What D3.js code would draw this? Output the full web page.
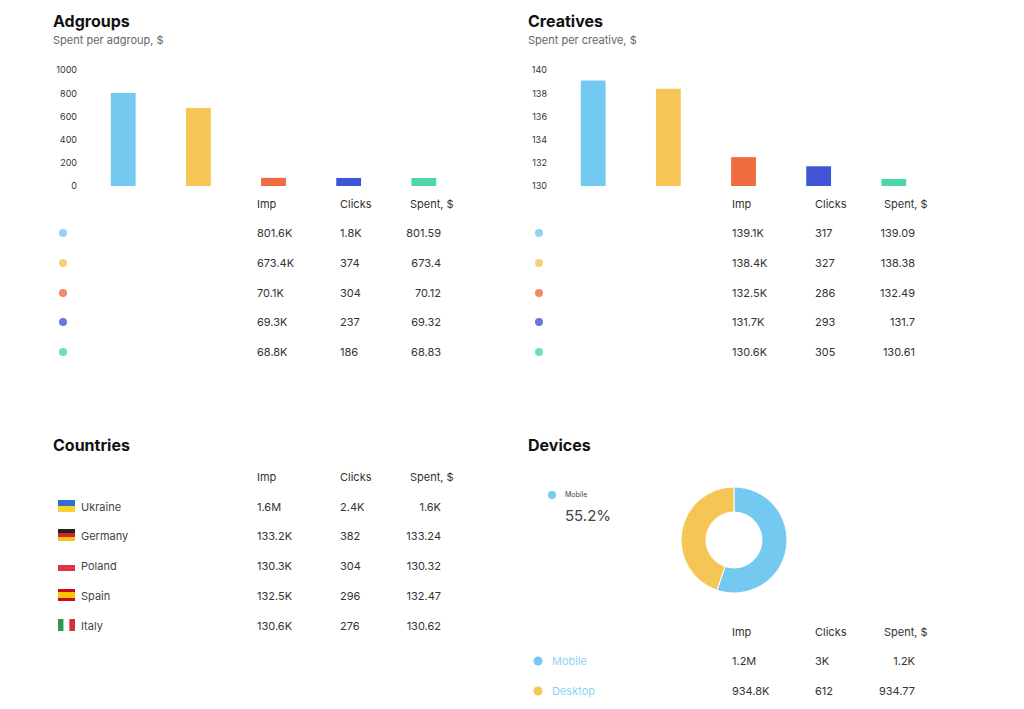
<!DOCTYPE html>
<html><head><meta charset="utf-8">
<script src="https://cdn.jsdelivr.net/npm/d3@7"></script>
<style>body{margin:0;background:#fff;font-family:Inter,Roboto,sans-serif}</style>
</head><body>
<svg id="c" width="1024" height="709"></svg>
<script>
const colors = ["#74c9f0","#f5c555","#ee6c3f","#3f57d4","#4fd6a8"];
const adgroupSpent = [801.59, 673.4, 70.12, 69.32, 68.83];
const adgroupImp = ["801.6K","673.4K","70.1K","69.3K","68.8K"];
const adgroupClicks = ["1.8K","374","304","237","186"];
const adgroupSpentLbl = ["801.59","673.4","70.12","69.32","68.83"];
const adTicks = [0,200,400,600,800,1000];
const creativeSpent = [139.09, 138.38, 132.49, 131.7, 130.61];
const creativeImp = ["139.1K","138.4K","132.5K","131.7K","130.6K"];
const creativeClicks = ["317","327","286","293","305"];
const creativeSpentLbl = ["139.09","138.38","132.49","131.7","130.61"];
const crTicks = [130,132,134,136,138,140];
const countries = ["Ukraine","Germany","Poland","Spain","Italy"];
const countryImp = ["1.6M","133.2K","130.3K","132.5K","130.6K"];
const countryClicks = ["2.4K","382","304","296","276"];
const countrySpent = ["1.6K","133.24","130.32","132.47","130.62"];
const devices = ["Mobile","Desktop"];
const deviceShare = [55.2, 44.8];
const deviceImp = ["1.2M","934.8K"];
const deviceClicks = ["3K","612"];
const deviceSpent = ["1.2K","934.77"];
const headers = ["Imp","Clicks","Spent, $"];

const svg = d3.select("#c");
function title(x,y,t,s){
  svg.append("text").attr("x",x).attr("y",y).text(t).attr("font-size",16).attr("font-weight",700).attr("fill","#111");
  if(s) svg.append("text").attr("x",x).attr("y",y+17).text(s).attr("font-size",11).attr("fill","#666");
}
function bars(x0, vals, dom, ticks){
  const y = d3.scaleLinear().domain(dom).range([186,70]);
  const x = d3.scaleBand().domain(d3.range(5)).range([x0+9, x0+384]).paddingInner(0.67).paddingOuter(0.33);
  const g = svg.append("g").attr("transform",`translate(${x0},0)`);
  const ax = g.call(d3.axisLeft(y).tickValues(ticks).tickFormat(d3.format("d")).tickSize(0).tickPadding(0));
  ax.select(".domain").remove();
  ax.selectAll("text").attr("font-size",9).attr("fill","#333").attr("font-family","Inter,Roboto,sans-serif");
  svg.append("g").selectAll("rect").data(vals).join("rect")
    .attr("x",(d,i)=>x(i)).attr("width",x.bandwidth())
    .attr("y",d=>Math.min(y(d),180)).attr("height",d=>186-Math.min(y(d),180))
    .attr("fill",(d,i)=>colors[i]);
}
function table(x0, hy, rows, cols, spentRight){
  headers.forEach((h,i)=>{
    svg.append("text").attr("x",i<2?x0+[0,83][i]:spentRight-31).attr("y",hy).text(h)
      .attr("font-size",11).attr("fill","#333");
  });
  rows.forEach((ry,r)=>{
    cols.forEach((c,i)=>{
      const t=svg.append("text").attr("x",i<2?x0+[0,83][i]:spentRight).attr("y",ry).text(c[r])
        .attr("font-size",11).attr("fill","#333");
      if(i==2) t.attr("text-anchor","end");
    });
  });
}
// Adgroups
title(53,27,"Adgroups","Spent per adgroup, $");
bars(77, adgroupSpent, [0,1000], adTicks);
const rowsTop=[237,267,297,326,356];
table(257,208,rowsTop,[adgroupImp,adgroupClicks,adgroupSpentLbl],441);
rowsTop.forEach((ry,i)=>svg.append("circle").attr("cx",63).attr("cy",ry-4).attr("r",4).attr("fill",colors[i]).attr("opacity",0.8));
// Creatives
title(528,27,"Creatives","Spent per creative, $");
bars(547, creativeSpent, [130,140], crTicks);
table(732,208,rowsTop,[creativeImp,creativeClicks,creativeSpentLbl],915);
rowsTop.forEach((ry,i)=>svg.append("circle").attr("cx",539).attr("cy",ry-4).attr("r",4).attr("fill",colors[i]).attr("opacity",0.8));
// Countries
title(53,451,"Countries");
const rowsC=[511,540,570,600,630];
table(257,481,rowsC,[countryImp,countryClicks,countrySpent],441);
const flags=[["#2f6fd0","#f7d22e"],["#222","#d22","#f5c518"],["#fff","#dc3545"],["#c60b1e","#ffc400","#c60b1e"],["v","#2e9a47","#fff","#d0323a"]];
countries.forEach((c,i)=>{
  const ry=rowsC[i], fx=58, fy=ry-11, fw=17, fh=12;
  const f=flags[i];
  if(f[0]==="v"){ [1,2,3].forEach(k=>svg.append("rect").attr("x",fx+(k-1)*fw/3).attr("y",fy).attr("width",fw/3).attr("height",fh).attr("fill",f[k])); }
  else if(i==3){ svg.append("rect").attr("x",fx).attr("y",fy).attr("width",fw).attr("height",fh).attr("fill",f[0]);
    svg.append("rect").attr("x",fx).attr("y",fy+3).attr("width",fw).attr("height",6).attr("fill",f[1]); }
  else { const n=f.length; f.forEach((col,k)=>svg.append("rect").attr("x",fx).attr("y",fy+k*fh/n).attr("width",fw).attr("height",fh/n).attr("fill",col)); }
  svg.append("text").attr("x",81).attr("y",ry).text(c).attr("font-size",11).attr("fill","#444");
});
// Devices
title(528,451,"Devices");
svg.append("circle").attr("cx",552).attr("cy",495).attr("r",4).attr("fill",colors[0]);
svg.append("text").attr("x",565).attr("y",497).text(devices[0]).attr("font-size",7).attr("fill","#444");
svg.append("text").attr("x",565).attr("y",521).text(deviceShare[0]+"%").attr("font-size",15).attr("fill","#444");
const pie=d3.pie().sort(null).value(d=>d)(deviceShare);
const arc=d3.arc().innerRadius(28).outerRadius(53);
svg.append("g").attr("transform","translate(734,540)").selectAll("path").data(pie).join("path")
  .attr("d",arc).attr("fill",(d,i)=>colors[i]).attr("stroke","#fff").attr("stroke-width",1);
const rowsD=[665,695];
table(732,636,rowsD,[deviceImp,deviceClicks,deviceSpent],915);
devices.forEach((d,i)=>{
  svg.append("circle").attr("cx",538).attr("cy",rowsD[i]-4).attr("r",4.5).attr("fill",colors[i]);
  svg.append("text").attr("x",552).attr("y",rowsD[i]).text(d).attr("font-size",11).attr("fill","#8fd3f3");
});
</script>
</body></html>
